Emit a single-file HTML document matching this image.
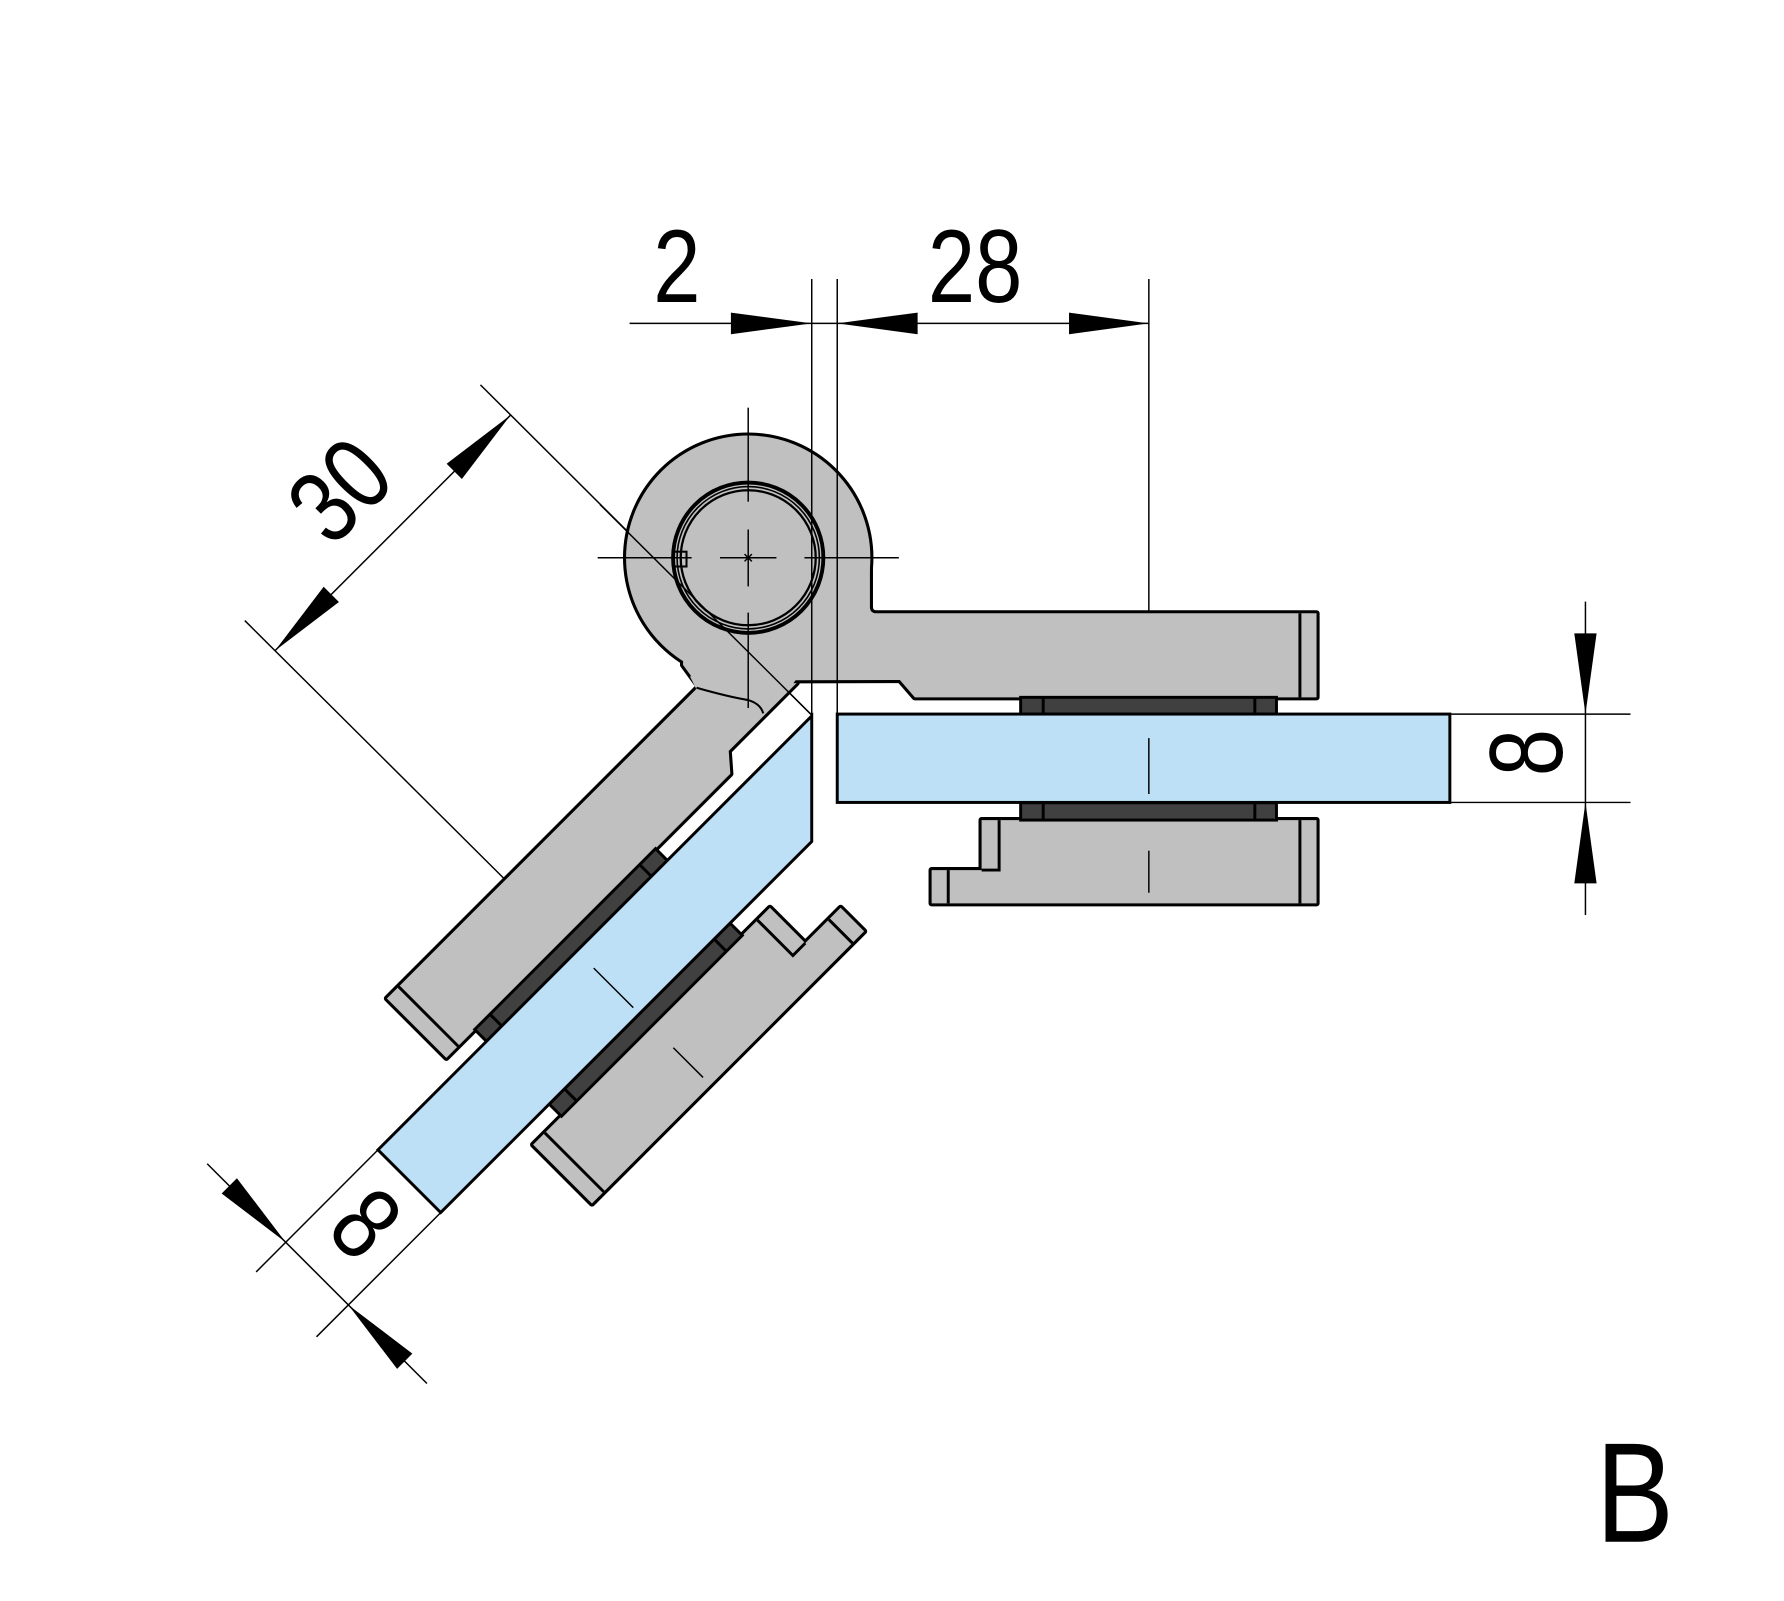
<!DOCTYPE html>
<html><head><meta charset="utf-8"><style>
html,body{margin:0;padding:0;background:#fff;}
svg{display:block;}
text{font-family:"Liberation Sans",sans-serif;fill:#000;}
</style></head><body>
<svg width="1784" height="1601" viewBox="0 0 1567 1406" preserveAspectRatio="none" xmlns="http://www.w3.org/2000/svg">
<rect x="0" y="0" width="1567" height="1406" fill="#fff"/>

<g stroke="#000" stroke-width="1.3" fill="none">
  <line x1="553" y1="284" x2="1009.1" y2="284"/>
  <line x1="1009.1" y1="245" x2="1009.1" y2="598.7"/>
  <line x1="422" y1="338" x2="713" y2="628"/>
  <line x1="215" y1="545" x2="486.5" y2="815.1"/>
  <line x1="448.5" y1="364.5" x2="241.5" y2="571.5"/>
  <line x1="332" y1="1009.8" x2="225" y2="1117"/>
  <line x1="387.1" y1="1064.9" x2="278" y2="1174"/>
  <line x1="182" y1="1022" x2="375" y2="1215"/>
  <line x1="1273.5" y1="627.1" x2="1432.2" y2="627.1"/>
  <line x1="1273.5" y1="704.7" x2="1432.2" y2="704.7"/>
  <line x1="1392.6" y1="528.4" x2="1392.6" y2="803.6"/>
</g>

<g fill="#000">
  <polygon points="642,274.5 642,293.5 713,284"/>
  <polygon points="806,274.5 806,293.5 735.4,284"/>
  <polygon points="939,274.5 939,293.5 1009.1,284"/>
  <polygon points="405.7,420.7 392.3,407.3 448.5,364.5"/>
  <polygon points="297.7,528.7 284.3,515.3 241.5,571.5"/>
  <polygon points="208.1,1034.7 194.7,1048.1 250.9,1090.9"/>
  <polygon points="362.2,1188.8 348.8,1202.2 306,1146"/>
  <polygon points="1382.8,556.2 1402.4,556.2 1392.6,627.1"/>
  <polygon points="1382.8,775.8 1402.4,775.8 1392.6,704.7"/>
</g>

<g fill="#c0c0c0" stroke="#000" stroke-width="5.4" stroke-linejoin="round">
  <circle cx="657.2" cy="489.8" r="107.3"/>
  <path d="M600,560 L700,470 L764.1,495 L764.1,532.8 Q764.1,538.6 770,538.6 L1156.4,538.6 L1156.4,612.4 L803.6,612.4 L790.4,597.2 L699.7,597.4 L611.8,600.2 L600,584 Z"/>
  <polygon points="818.3,764.1 862.2,764.1 862.2,720.2 1156.4,720.2 1156.4,793.3 818.3,793.3"/>
  <g transform="matrix(-0.7071 0.7071 0.7071 0.7071 776.7 -321.7)">
    <polygon points="771.7,538.6 1156.4,538.6 1156.4,612.4 803.6,612.4 790.4,597.2 706,597.2"/>
    <polygon points="818.3,764.1 862.2,764.1 862.2,720.2 1156.4,720.2 1156.4,793.3 818.3,793.3"/>
  </g>
</g>
<g fill="#c0c0c0" stroke="none">
  <circle cx="657.2" cy="489.8" r="107.3"/>
  <path d="M600,560 L700,470 L764.1,495 L764.1,532.8 Q764.1,538.6 770,538.6 L1156.4,538.6 L1156.4,612.4 L803.6,612.4 L790.4,597.2 L699.7,597.4 L611.8,600.2 L600,584 Z"/>
  <polygon points="818.3,764.1 862.2,764.1 862.2,720.2 1156.4,720.2 1156.4,793.3 818.3,793.3"/>
  <g transform="matrix(-0.7071 0.7071 0.7071 0.7071 776.7 -321.7)">
    <polygon points="771.7,538.6 1156.4,538.6 1156.4,612.4 803.6,612.4 790.4,597.2 706,597.2"/>
    <polygon points="818.3,764.1 862.2,764.1 862.2,720.2 1156.4,720.2 1156.4,793.3 818.3,793.3"/>
  </g>
  <polygon points="606,594 702,593 694,604 612,606"/>
</g>

<g stroke="#000" stroke-width="2.6" fill="none">
  <line x1="1141.8" y1="538.6" x2="1141.8" y2="612.4"/>
  <line x1="1141.8" y1="720.2" x2="1141.8" y2="793.3"/>
  <line x1="832.9" y1="764.1" x2="832.9" y2="793.3"/>
  <polyline points="862.2,764.1 877.6,764.1 877.6,720.2"/>
  <g transform="matrix(-0.7071 0.7071 0.7071 0.7071 776.7 -321.7)">
    <line x1="1141.8" y1="538.6" x2="1141.8" y2="612.4"/>
    <line x1="1141.8" y1="720.2" x2="1141.8" y2="793.3"/>
    <line x1="832.9" y1="764.1" x2="832.9" y2="793.3"/>
    <polyline points="862.2,764.1 877.6,764.1 877.6,720.2"/>
  </g>
  <path d="M611.8,604 Q640,612 657.2,614.8 Q668,618 670.4,626.5" stroke-width="1.8"/>
</g>

<g fill="none" stroke="#000">
  <circle cx="657.2" cy="489.8" r="66" stroke-width="3.4"/>
  <circle cx="657.2" cy="489.8" r="62.5" stroke-width="1.4"/>
  <circle cx="657.2" cy="489.8" r="59.3" stroke-width="2"/>
  <rect x="592" y="484.5" width="11" height="13" stroke-width="1.8"/>
</g>

<g stroke="#000" stroke-width="1.3" fill="none">
  <line x1="713" y1="245" x2="713" y2="630"/>
  <line x1="735.4" y1="245" x2="735.4" y2="627"/>
  <line x1="527" y1="443" x2="713" y2="628"/>
</g>

<g fill="#404040" stroke="#000" stroke-width="2.6">
  <rect x="896.5" y="612.4" width="224.7" height="14.7"/>
  <rect x="896.5" y="705" width="224.7" height="15.2"/>
  <g transform="matrix(-0.7071 0.7071 0.7071 0.7071 776.7 -321.7)">
    <rect x="896.5" y="612.4" width="224.7" height="14.7"/>
    <rect x="896.5" y="705" width="224.7" height="15.2"/>
    <line x1="916.3" y1="612.4" x2="916.3" y2="627.1"/>
    <line x1="1102.2" y1="612.4" x2="1102.2" y2="627.1"/>
    <line x1="916.3" y1="705" x2="916.3" y2="720.2"/>
    <line x1="1102.2" y1="705" x2="1102.2" y2="720.2"/>
  </g>
  <line x1="916.3" y1="612.4" x2="916.3" y2="627.1"/>
  <line x1="1102.2" y1="612.4" x2="1102.2" y2="627.1"/>
  <line x1="916.3" y1="705" x2="916.3" y2="720.2"/>
  <line x1="1102.2" y1="705" x2="1102.2" y2="720.2"/>
</g>

<g fill="#bde0f6" stroke="#000" stroke-width="2.6">
  <rect x="735.4" y="627.1" width="538.1" height="77.6"/>
  <polygon points="713,628.8 713,739 387.1,1064.9 332,1009.8"/>
</g>

<g stroke="#000" stroke-width="1.3" fill="none">
  <line x1="525" y1="489.8" x2="607.5" y2="489.8"/>
  <line x1="632.4" y1="489.8" x2="682" y2="489.8"/>
  <line x1="706.6" y1="489.8" x2="789.5" y2="489.8"/>
  <line x1="657.2" y1="358" x2="657.2" y2="440.6"/>
  <line x1="657.2" y1="465" x2="657.2" y2="515"/>
  <line x1="657.2" y1="538" x2="657.2" y2="621.8"/>
  <line x1="654" y1="486.6" x2="660.4" y2="493"/>
  <line x1="654" y1="493" x2="660.4" y2="486.6"/>
  <line x1="1009.1" y1="648.2" x2="1009.1" y2="697.3"/>
  <line x1="1009.1" y1="747.1" x2="1009.1" y2="784"/>
  <g transform="matrix(-0.7071 0.7071 0.7071 0.7071 776.7 -321.7)">
    <line x1="1009.1" y1="648.2" x2="1009.1" y2="697.3"/>
    <line x1="1009.1" y1="747.1" x2="1009.1" y2="784"/>
  </g>
</g>

<text transform="translate(594.5,265) scale(0.82,1)" font-size="91" text-anchor="middle">2</text>
<text transform="translate(856.5,265) scale(0.82,1)" font-size="91" text-anchor="middle">28</text>
<text transform="translate(298,430) rotate(-45) scale(0.82,1)" font-size="91" text-anchor="middle" dy="32">30</text>
<text transform="translate(1340,661) rotate(-90) scale(0.82,1)" font-size="91" text-anchor="middle" dy="32">8</text>
<text transform="translate(322,1074) rotate(45) scale(0.82,1)" font-size="91" text-anchor="middle" dy="32">8</text>
<text transform="translate(1436,1354) scale(0.82,1)" font-size="125" text-anchor="middle">B</text>
</svg>
</body></html>
